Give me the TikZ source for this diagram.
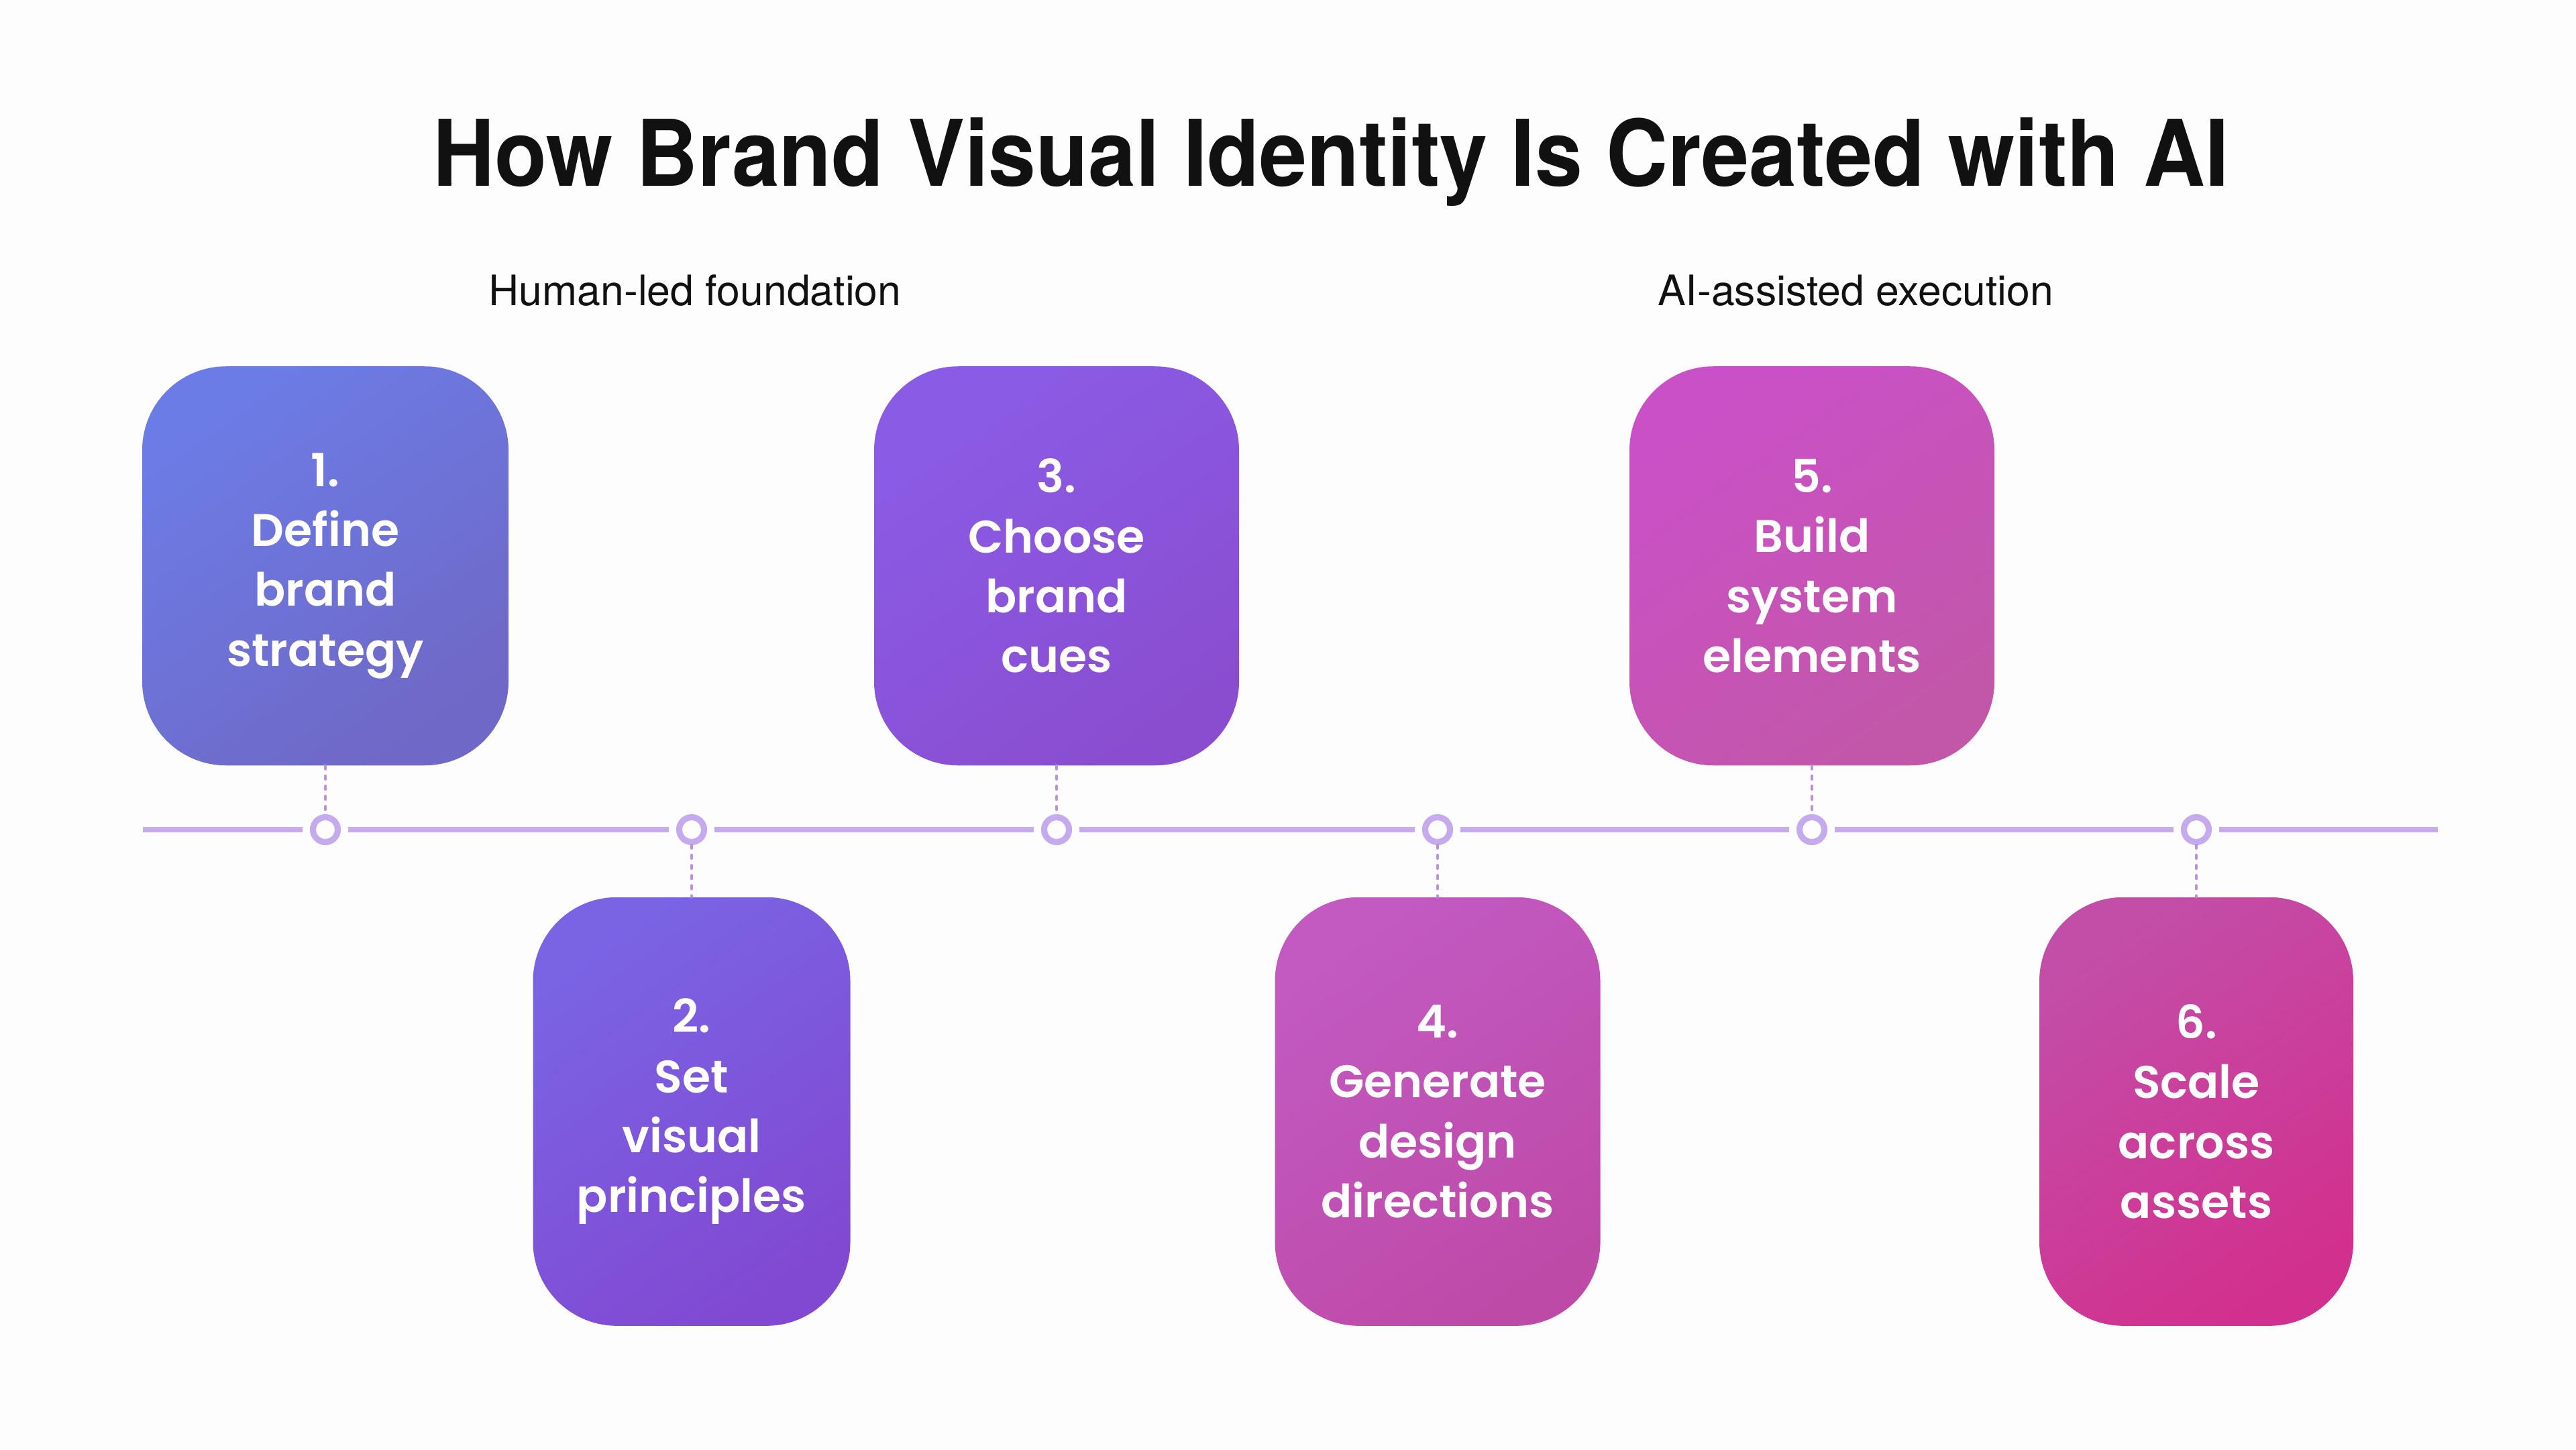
\documentclass[tikz,border=0pt]{standalone}
\usepackage{fontspec}
\setmainfont{TeX Gyre Heros}
\newfontfamily\stepfont{Poppins}[BoldFont={Poppins SemiBold}]
\usepackage{tikz}
\usetikzlibrary{positioning, calc}

\definecolor{pagebg}{HTML}{FDFDFE}
\definecolor{lavender}{HTML}{C6AAEE}
\definecolor{inkdark}{HTML}{111111}
\definecolor{oneA}{HTML}{6C7CE6}
\definecolor{oneB}{HTML}{6F68C6}
\definecolor{twoA}{HTML}{7A64E4}
\definecolor{twoB}{HTML}{8149D2}
\definecolor{threeA}{HTML}{8A5CE6}
\definecolor{threeB}{HTML}{8A4DD0}
\definecolor{fourA}{HTML}{C25AC2}
\definecolor{fourB}{HTML}{BE4AA8}
\definecolor{fiveA}{HTML}{CA50C8}
\definecolor{fiveB}{HTML}{C257A8}
\definecolor{sixA}{HTML}{C24EA8}
\definecolor{sixB}{HTML}{D2308E}

\begin{document}
\begin{tikzpicture}[
    stepbox/.style={rounded corners=1.25cm, align=center, text=white, inner sep=0pt,
        font=\stepfont\bfseries\fontsize{19.4}{25.4}\selectfont},
    tint/.style 2 args={top color=#1, bottom color=#2, shading angle=35},
    marker/.style={circle, draw=lavender, line width=2.6pt, fill=pagebg, minimum size=0.37cm, inner sep=0pt,
        preaction={draw=pagebg, line width=8.8pt}},
    timeline/.style={lavender, line width=2.3pt},
    link/.style={lavender!85!violet, line width=1.3pt, dash pattern=on 1.3pt off 3pt, line cap=round},
    phase/.style={anchor=base, text=inkdark, font=\fontsize{17.8}{20}\selectfont}
]
    % Canvas
    \fill[pagebg] (0,0) rectangle (38.4,-21.61);
    \useasboundingbox (0,0) rectangle (38.4,-21.61);

    % Title
    \node[anchor=base, text=inkdark, font=\bfseries\fontsize{39}{44}\selectfont] (title) at (19.84,-2.77)
        {\scalebox{0.93}[1]{How Brand Visual Identity Is Created with AI}};

    % Phase labels
    \node[phase] (human) at (10.36,-4.55) {Human-led foundation};
    \node[phase] (ai) at (27.66,-4.55) {AI-assisted execution};

    % Timeline
    \coordinate (L) at (2.13,-12.37);
    \coordinate (R) at (36.34,-12.37);
    \draw[timeline] (L) -- (R);

    % Markers on the timeline
    \node[marker] (m1) at (4.85,-12.37) {};
    \node[marker] (m2) at (10.31,-12.37) {};
    \node[marker] (m3) at (15.75,-12.37) {};
    \node[marker] (m4) at (21.43,-12.37) {};
    \node[marker] (m5) at (27.01,-12.37) {};
    \node[marker] (m6) at (32.74,-12.37) {};

    % Steps above the line
    \node[stepbox, tint={oneA}{oneB}, minimum width=5.46cm, minimum height=5.95cm,
        above=0.72cm of m1] (s1) {1.\\Define\\brand\\strategy};
    \node[stepbox, tint={threeA}{threeB}, minimum width=5.44cm, minimum height=5.95cm,
        above=0.72cm of m3] (s3) {3.\\Choose\\brand\\cues};
    \node[stepbox, tint={fiveA}{fiveB}, minimum width=5.44cm, minimum height=5.95cm,
        above=0.72cm of m5] (s5) {5.\\Build\\system\\elements};

    % Steps below the line
    \node[stepbox, tint={twoA}{twoB}, minimum width=4.73cm, minimum height=6.39cm,
        below=0.77cm of m2] (s2) {2.\\Set\\visual\\principles};
    \node[stepbox, tint={fourA}{fourB}, minimum width=4.85cm, minimum height=6.39cm,
        below=0.77cm of m4] (s4) {4.\\Generate\\design\\directions};
    \node[stepbox, tint={sixA}{sixB}, minimum width=4.68cm, minimum height=6.39cm,
        below=0.77cm of m6] (s6) {6.\\Scale\\across\\assets};

    % Dotted links
    \draw[link] (s1) -- (m1);
    \draw[link] (m2) -- (s2);
    \draw[link] (s3) -- (m3);
    \draw[link] (m4) -- (s4);
    \draw[link] (s5) -- (m5);
    \draw[link] (m6) -- (s6);
\end{tikzpicture}
\end{document}
